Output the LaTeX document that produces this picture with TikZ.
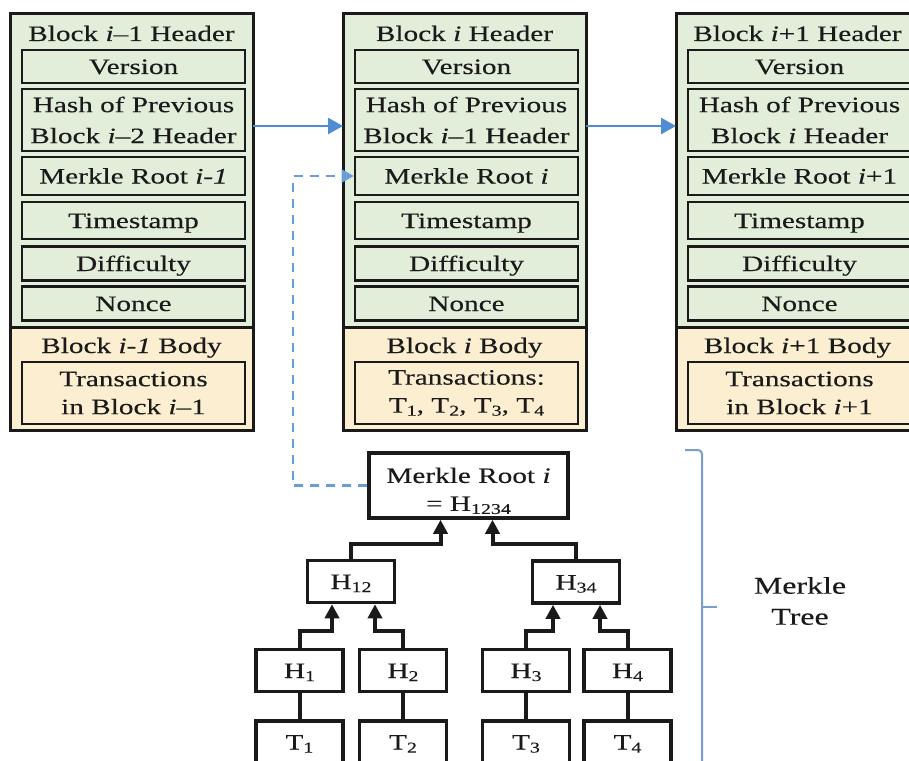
\documentclass[tikz,border=0pt]{standalone}
\usepackage{fontspec}
\setmainfont{Liberation Serif}[FakeStretch=1.33, FakeBold=0.25]
\usetikzlibrary{arrows.meta}

\definecolor{headfill}{HTML}{E2EDDA}
\definecolor{bodyfill}{HTML}{FCEFD1}
\definecolor{ink}{HTML}{1A1A1A}
\definecolor{linkblue}{HTML}{4F8CD3}
\definecolor{braceblue}{HTML}{7B9CCF}

% lowered index digits (H_12, T_1, ...)
\newcommand\lowidx[1]{\raisebox{-0.3ex}{\fontsize{15pt}{15pt}\selectfont #1}}

\tikzset{
  txt/.style={font=\fontsize{22pt}{28pt}\selectfont, text=ink},
  frame/.style={draw=ink, line width=3pt},
  blocktitle/.style={txt, anchor=base, inner sep=0pt},
  field/.style={txt, draw=ink, line width=2.6pt, fill=headfill,
    minimum width=223pt, inner sep=0pt, align=center},
  bodyfield/.style={field, fill=bodyfill},
  oneline/.style={text height=15pt, text depth=0pt},
  tbox/.style={txt, draw=ink, line width=3.5pt, fill=white,
    minimum width=87pt, minimum height=42pt, inner sep=0pt, align=center},
  tline/.style={draw=ink, line width=4pt},
  tarrow/.style={tline, -{Triangle[length=14pt,width=14pt]}},
  flowarrow/.style={draw=linkblue, line width=2.5pt, -{Triangle[length=15pt,width=16pt]}},
  dasharrow/.style={draw=linkblue!85!white, line width=2.2pt, dash pattern=on 9pt off 7pt,
    -{Triangle[length=12pt,width=13pt]}},
  bracket/.style={draw=braceblue, line width=2pt},
}

% one block of the chain: #1 name, #2 left edge, #3 header title,
% #4 second line of the previous-hash field, #5 Merkle root field,
% #6 body title, #7 transactions field
\newcommand\chainblock[7]{%
  \fill[headfill] (#2,14) rectangle ({#2+243},327);
  \fill[bodyfill] (#2,327) rectangle ({#2+243},430);
  \node[blocktitle] (#1-ttl) at ({#2+121.5},41) {#3};
  \node[field, oneline, minimum height=33pt] (#1-ver) at ({#2+123.5},66.5) {Version};
  \node[field, minimum height=62pt, font=\fontsize{22pt}{31pt}\selectfont] (#1-hash)
    at ({#2+123.5},120) {Hash of Previous\\#4};
  \node[field, oneline, minimum height=38pt] (#1-mr) at ({#2+123.5},176) {#5};
  \node[field, oneline, minimum height=37pt] (#1-ts) at ({#2+123.5},220.5) {Timestamp};
  \node[field, oneline, minimum height=34pt] (#1-dif) at ({#2+123.5},263.5) {Difficulty};
  \node[field, oneline, minimum height=34pt] (#1-non) at ({#2+123.5},303.5) {Nonce};
  \node[blocktitle] (#1-body) at ({#2+121.5},353) {#6};
  \node[bodyfield, minimum height=62pt] (#1-tx) at ({#2+123.5},393) {#7};
  \draw[frame] (#2,327) -- ({#2+243},327);
  \node[frame, minimum width=243pt, minimum height=416pt, inner sep=0pt]
    (#1-box) at ({#2+121.5},222) {};
  \coordinate (#1-in) at (#2,126);
  \coordinate (#1-out) at ({#2+243},126);
}

\begin{document}
\begin{tikzpicture}[x=1pt, y=-1pt]
\useasboundingbox (0,0) rectangle (909,760);
\clip (0,0) rectangle (909,760);

% the chain of blocks
\chainblock{b1}{10}{Block \textit{i}–1 Header}{Block \textit{i}–2 Header}%
  {Merkle Root \textit{i-1}}{Block \textit{i-1} Body}{Transactions\\in Block \textit{i}–1}
\chainblock{b2}{343}{Block \textit{i} Header}{Block \textit{i}–1 Header}%
  {Merkle Root \textit{i}}{Block \textit{i} Body}%
  {Transactions:\\T\lowidx{1}, T\lowidx{2}, T\lowidx{3}, T\lowidx{4}}
\chainblock{b3}{676}{Block \textit{i}+1 Header}{Block \textit{i} Header}%
  {Merkle Root \textit{i}+1}{Block \textit{i}+1 Body}{Transactions\\in Block \textit{i}+1}

% hash links between consecutive headers
\draw[flowarrow] (b1-out) -- (b2-in);
\draw[flowarrow] (b2-out) -- (b3-in);

% Merkle tree of block i
\node[tbox, minimum width=199pt, minimum height=65pt] (mr) at (468.5,485.5)
  {\rule{0pt}{26pt}Merkle Root \textit{i}\\= H\lowidx{1234}};
\node[tbox, oneline] (h12) at (351,581.5) {H\lowidx{12}};
\node[tbox, oneline] (h34) at (576,582) {H\lowidx{34}};
\node[tbox, oneline] (h1) at (299.5,670.5) {H\lowidx{1}};
\node[tbox, oneline] (h2) at (403,670.5) {H\lowidx{2}};
\node[tbox, oneline] (h3) at (526,670.5) {H\lowidx{3}};
\node[tbox, oneline] (h4) at (627.5,670.5) {H\lowidx{4}};
\node[tbox, oneline] (t1) at (299.5,742) {T\lowidx{1}};
\node[tbox, oneline] (t2) at (403,742) {T\lowidx{2}};
\node[tbox, oneline] (t3) at (526,742) {T\lowidx{3}};
\node[tbox, oneline] (t4) at (627.5,742) {T\lowidx{4}};

\draw[tline] (t1) -- (h1);
\draw[tline] (t2) -- (h2);
\draw[tline] (t3) -- (h3);
\draw[tline] (t4) -- (h4);
\draw[tarrow] (h1.north) -- ++(0,-17) -| ([xshift=-19pt]h12.south);
\draw[tarrow] (h2.north) -- ++(0,-17) -| ([xshift=24pt]h12.south);
\draw[tarrow] (h3.north) -- ++(0,-17) -| ([xshift=-23pt]h34.south);
\draw[tarrow] (h4.north) -- ++(0,-17) -| ([xshift=24pt]h34.south);
\draw[tarrow] (h12.north) -- ++(0,-15) -| ([xshift=-28pt]mr.south);
\draw[tarrow] (h34.north) -- ++(0,-15) -| ([xshift=24pt]mr.south);

% the root is stored in the header of block i
\draw[dasharrow] (mr.west) -- ++(-74,0) |- (b2-mr.west);

% bracket and caption of the tree
\coordinate (brtip) at (717,607);
\draw[bracket, rounded corners=4pt] (685,450) -- (702,450) -- (702,775);
\draw[bracket] (702,607) -- (brtip);
\node[font=\fontsize{24pt}{31pt}\selectfont, text=ink, align=center] (mtree) at (800,601) {Merkle\\Tree};
\end{tikzpicture}
\end{document}
